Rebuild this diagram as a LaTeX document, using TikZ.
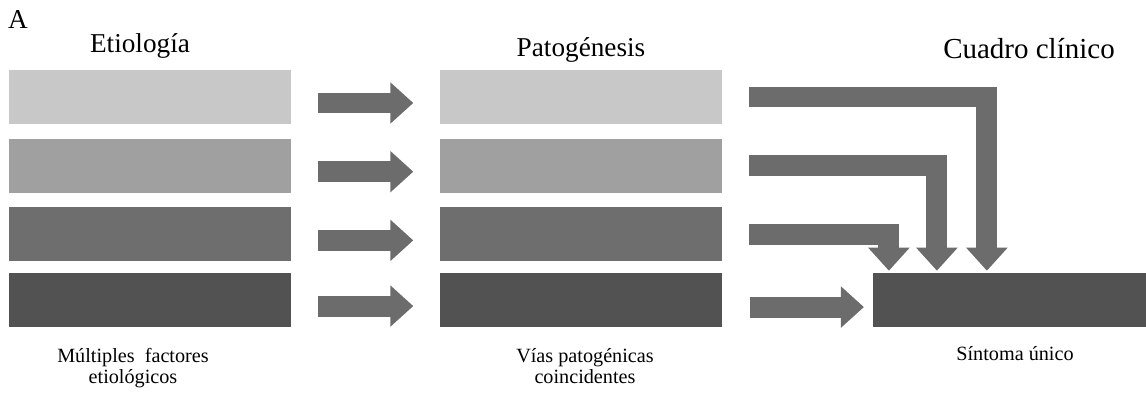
\documentclass[tikz,border=0pt]{standalone}
\usepackage{fontspec}
\setmainfont{Liberation Serif}
\usetikzlibrary{arrows.meta,positioning}

\definecolor{grayA}{HTML}{C8C8C8}
\definecolor{grayB}{HTML}{A0A0A0}
\definecolor{grayC}{HTML}{6E6E6E}
\definecolor{grayD}{HTML}{525252}
\definecolor{arrowgray}{HTML}{6C6C6C}

\begin{document}
\begin{tikzpicture}[x=0.02cm, y=-0.02cm,
    bar/.style={draw=none, inner sep=0pt, minimum width=5.64cm, minimum height=1.08cm},
    big/.style={draw=arrowgray, line width=0.42cm, line join=miter,
        -{Triangle[length=0.46cm, width=0.8cm]}},
    title/.style={font=\fontsize{15.5}{18}\selectfont, anchor=base, inner sep=0pt},
    caption/.style={font=\fontsize{11.5}{11.5}\selectfont, align=center, anchor=base, inner sep=0pt}]
    \useasboundingbox (0,0) rectangle (1146,399);

    % Titles
    \node [title]                                  (lbl)  at (18,29)   {A};
    \node [title]                                  (tEt)  at (140,52)  {Etiología};
    \node [title]                                  (tPa)  at (581,56)  {Patogénesis};
    \node [title, font=\fontsize{16.5}{19}\selectfont] (tCu) at (1029,58) {Cuadro clínico};

    % Bars {e1..e4, p1..p4, s}
    \node [bar, fill=grayA]                        (e1)   at (150,97) {};
    \node [bar, fill=grayB]  [below=0.28cm of e1]  (e2)   {};
    \node [bar, fill=grayC]  [below=0.28cm of e2]  (e3)   {};
    \node [bar, fill=grayD]  [below=0.22cm of e3]  (e4)   {};
    \node [bar, fill=grayA]  [right=2.96cm of e1]  (p1)   {};
    \node [bar, fill=grayB]  [right=2.96cm of e2]  (p2)   {};
    \node [bar, fill=grayC]  [right=2.96cm of e3]  (p3)   {};
    \node [bar, fill=grayD]  [right=2.96cm of e4]  (p4)   {};
    \node [bar, fill=grayD, minimum width=5.5cm] [right=3.02cm of p4] (s) {};

    % Arrows
    \foreach \i in {1,...,4}
        \draw [big, shorten <=0.54cm, shorten >=0.52cm]
            ([yshift=-0.12cm]e\i.east) -- ([yshift=-0.12cm]p\i.west);
    \draw [big, shorten <=0.56cm, shorten >=0.18cm]
        ([yshift=-0.14cm]p4.east) -- ([yshift=-0.14cm]s.west);
    \draw [big, shorten <=0.54cm, shorten >=0.04cm] (p1.east) -| ([xshift=2.28cm]s.north west);
    \draw [big, shorten <=0.54cm, shorten >=0.04cm] (p2.east) -| ([xshift=1.28cm]s.north west);
    \draw [big, shorten <=0.54cm, shorten >=0.04cm] (p3.east) -| ([xshift=0.32cm]s.north west);

    % Captions
    \node [caption] (cEt) at (133,383) {Múltiples\ \ factores\\etiológicos};
    \node [caption] (cPa) at (585,383) {Vías patogénicas\\coincidentes};
    \node [caption] (cCu) at (1015,360) {Síntoma único};
\end{tikzpicture}
\end{document}
